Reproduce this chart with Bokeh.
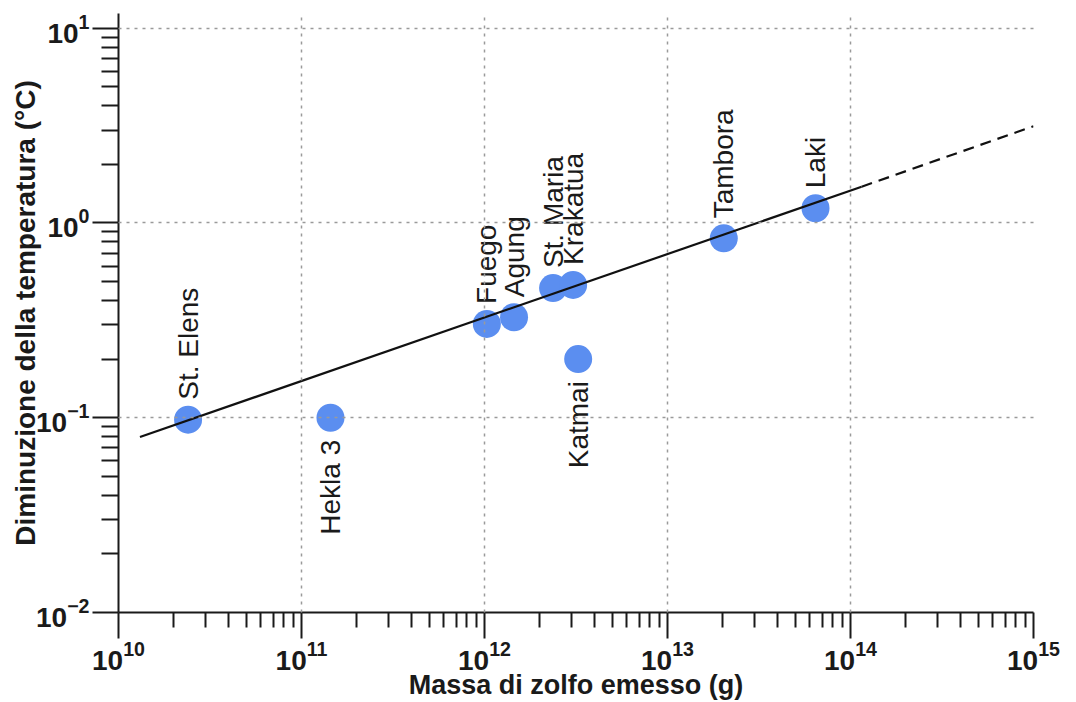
import math
from bokeh.plotting import figure
from bokeh.models import FixedTicker, LogTickFormatter, ColumnDataSource, Range1d
from bokeh.core.properties import value
from bokeh.embed import file_html
from bokeh.resources import INLINE

# ---- data ----
volcanoes = ["St. Elens", "Hekla 3", "Fuego", "Agung", "St. Maria",
             "Krakatua", "Katmai", "Tambora", "Laki"]
sulfur_mass_g = [2.40e10, 1.44e11, 1.03e12, 1.45e12, 2.37e12,
                 3.05e12, 3.25e12, 2.03e13, 6.44e13]
temp_drop_c = [0.0977, 0.100, 0.303, 0.328, 0.463,
               0.481, 0.200, 0.834, 1.19]
label_side = ["above", "below", "above", "above", "above",
              "above", "below", "above", "above"]

fit_solid_x = [1.31e10, 1.15e14]
fit_solid_y = [0.0796, 1.535]
fit_dashed_x = [1.15e14, 1.0e15]
fit_dashed_y = [1.535, 3.14]

x_major_ticks = [1e10, 1e11, 1e12, 1e13, 1e14, 1e15]
y_major_ticks = [1e-2, 1e-1, 1e0, 1e1]
x_minor_ticks = [k * 10.0 ** n for n in range(10, 15) for k in range(2, 10)]
y_minor_ticks = [k * 10.0 ** n for n in range(-2, 1) for k in range(2, 10)]

x_title = "Massa di zolfo emesso (g)"
y_title = "Diminuzione della temperatura (°C)"

FONT = "Liberation Sans"

p = figure(width=1076, height=702, x_axis_type="log", y_axis_type="log",
           x_range=Range1d(1e10, 1e15), y_range=Range1d(1e-2, 11.9),
           output_backend="svg", toolbar_location=None,
           min_border_left=118, min_border_right=43,
           min_border_top=13, min_border_bottom=90)
p.outline_line_color = None
p.background_fill_color = "white"
p.border_fill_color = "white"

# axes
for ax, ticks, minors, mtick, title, tsize in (
        (p.xaxis[0], x_major_ticks, x_minor_ticks, 15, x_title, "27px"),
        (p.yaxis[0], y_major_ticks, y_minor_ticks, 17, y_title, "28px")):
    ax.ticker = FixedTicker(ticks=ticks, minor_ticks=minors)
    ax.formatter = LogTickFormatter()
    ax.axis_line_color = "#1a1a1a"
    ax.axis_line_width = 2
    ax.major_tick_line_color = "#1a1a1a"
    ax.major_tick_line_width = 2
    ax.minor_tick_line_color = "#1a1a1a"
    ax.minor_tick_line_width = 2
    ax.major_tick_out = 26
    ax.major_tick_in = 0
    ax.minor_tick_out = mtick
    ax.minor_tick_in = 0
    ax.major_label_text_font = FONT
    ax.major_label_text_font_style = "bold"
    ax.major_label_text_font_size = "28px"
    ax.major_label_text_color = "#1a1a1a"
    ax.axis_label = title
    ax.axis_label_text_font = FONT
    ax.axis_label_text_font_style = "bold"
    ax.axis_label_text_font_size = tsize
    ax.axis_label_text_color = "#1a1a1a"

p.xaxis.major_label_standoff = 2
p.xaxis.axis_label_standoff = -3
p.yaxis.major_label_standoff = 3
p.yaxis.axis_label_standoff = -8

# grid
for g in (p.xgrid[0], p.ygrid[0]):
    g.grid_line_color = "#9a9a9a"
    g.grid_line_width = 1.5
    g.grid_line_dash = "3 5"
    g.level = "annotation"

# points
src = ColumnDataSource(dict(x=sulfur_mass_g, y=temp_drop_c, name=volcanoes, side=label_side))
p.scatter("x", "y", source=src, size=28, fill_color="#5b8ef0", line_color=None)

# regression line
p.line(fit_solid_x, fit_solid_y, line_color="#111111", line_width=2.2)
p.line(fit_dashed_x, fit_dashed_y, line_color="#111111", line_width=2.2, line_dash="11 7")

# labels
above = [i for i, s in enumerate(label_side) if s == "above"]
below = [i for i, s in enumerate(label_side) if s == "below"]
for idx, align, off in ((above, "left", -20), (below, "right", 22)):
    s = ColumnDataSource(dict(x=[sulfur_mass_g[i] for i in idx],
                              y=[temp_drop_c[i] for i in idx],
                              t=[volcanoes[i] for i in idx]))
    p.text("x", "y", text="t", source=s, angle=math.pi / 2,
           text_align=align, text_baseline="middle", y_offset=off,
           text_font=value(FONT), text_font_size="28px", text_color="#1a1a1a")

open("out.html", "w").write(file_html(p, INLINE))
